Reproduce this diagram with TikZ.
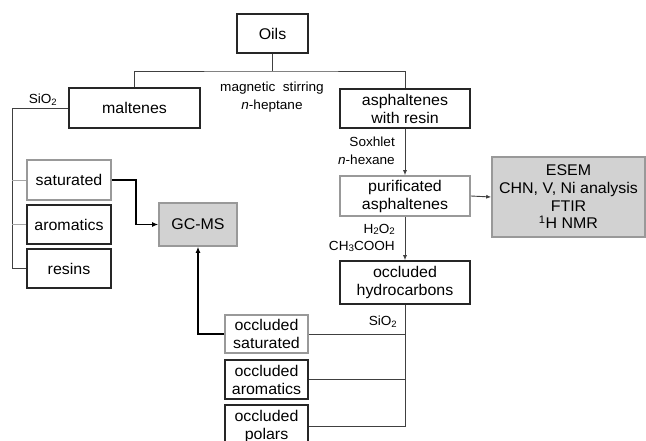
\documentclass[tikz,border=0pt]{standalone}
\usepackage{fontspec}
\setmainfont[FakeStretch=1.03]{Liberation Sans}
\usetikzlibrary{arrows.meta}
\newcommand{\lowsub}[1]{\raisebox{-0.1em}{\fontsize{9.5}{9.5}\selectfont #1}}
\begin{document}
\begin{tikzpicture}[x=1pt,y=-1pt,
  box/.style={draw=black!85,line width=1.6pt,inner sep=0pt,align=center,
    font=\fontsize{15.5}{18}\selectfont},
  gbox/.style={box,draw=gray!80},
  fbox/.style={box,draw=gray!80,fill=gray!35},
  lbl/.style={inner sep=0pt,font=\fontsize{13.2}{18.5}\selectfont},
  conn/.style={draw=black!75,line width=0.9pt},
  thinarr/.style={conn,-{Latex[length=5pt,width=4pt]}},
  thickarr/.style={draw=black,line width=1.6pt,-{Latex[length=6pt,width=5pt]}}]
\clip (0,0) rectangle (646,441);
\fill[white] (0,0) rectangle (646,441);
% nodes
\node[box,minimum width=71pt,minimum height=39pt] (oils) at (272.5,33.5) {Oils};
\node[box,minimum width=131pt,minimum height=40pt] (malt) at (134.5,108) {maltenes};
\node[box,minimum width=130pt,minimum height=39pt] (asph) at (405,108.5) {asphaltenes\\with resin};
\node[gbox,minimum width=84pt,minimum height=40pt] (sat) at (69,180) {saturated};
\node[box,minimum width=84pt,minimum height=39pt] (arom) at (69,224.5) {aromatics};
\node[box,minimum width=84pt,minimum height=39pt] (res) at (69,268.5) {resins};
\node[fbox,minimum width=78pt,minimum height=43pt] (gcms) at (198,224.5) {GC-MS};
\node[gbox,minimum width=130pt,minimum height=40pt] (purif) at (405,196) {purificated\\asphaltenes};
\node[fbox,minimum width=153pt,minimum height=80pt,font=\fontsize{15.5}{17.7}\selectfont] (esem) at (568.5,197) {ESEM\\CHN, V, Ni analysis\\FTIR\\\textsuperscript{1}H NMR};
\node[box,minimum width=130pt,minimum height=43pt] (occh) at (405,282.5) {occluded\\hydrocarbons};
\node[gbox,minimum width=83pt,minimum height=38pt] (osat) at (266.5,334) {occluded\\saturated};
\node[box,minimum width=83pt,minimum height=39pt] (oarom) at (266.5,379.5) {occluded\\aromatics};
\node[box,minimum width=83pt,minimum height=42pt] (opol) at (266.5,426) {occluded\\polars};
% labels
\node[lbl,align=center] (lmag) at (272,97) {magnetic\ \ stirring\\\textit{n}-heptane};
\node[lbl] (lsio1) at (43,100) {SiO\textsubscript{2}};
\node[lbl,align=right,anchor=east] (lsox) at (395,151) {Soxhlet\\\textit{n}-hexane};
\node[lbl,align=right,anchor=east,font=\fontsize{13.2}{17.5}\selectfont] (lh2o2) at (395,238) {H\lowsub{2}O\lowsub{2}\\CH\lowsub{3}COOH};
\node[lbl] (lsio2) at (383,322) {SiO\textsubscript{2}};
% connectors
\coordinate (split) at (272.5,71);
\draw[conn] (oils.south) -- (split);
\draw[conn] (malt.north) |- (split) -| (asph.north);
\coordinate (mL) at (12,108);
\draw[conn] (malt.west) -- (mL) |- (res.west);
\draw[conn,draw=gray!70] (mL |- sat.west) -- (sat.west);
\draw[conn,draw=gray!70] (mL |- arom.west) -- (arom.west);
\draw[thickarr] (sat.east) -- ++(24,0) |- (gcms.west);
\draw[thickarr] (osat.west) -| (gcms.south);
\draw[thinarr] (asph.south) -- (purif.north);
\draw[thinarr] (purif.south) -- (occh.north);
\draw[thinarr] (purif.east) -- (esem.west);
\draw[conn] (occh.south) |- (opol.east);
\draw[conn] (osat.east) -- (osat.east -| occh.south);
\draw[conn] (oarom.east) -- (oarom.east -| occh.south);
\end{tikzpicture}
\end{document}
